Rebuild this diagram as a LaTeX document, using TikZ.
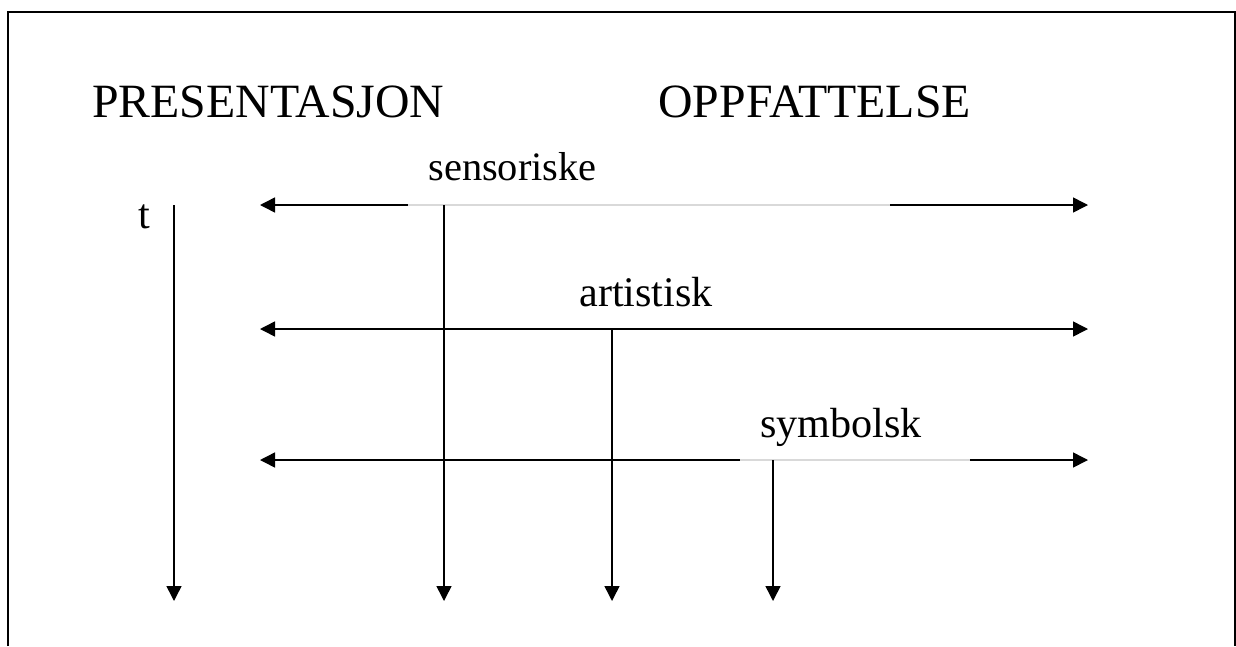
\documentclass[tikz,border=0pt]{standalone}
\usepackage{fontspec}
\setmainfont{Liberation Serif}
\usetikzlibrary{arrows.meta}

\begin{document}
\begin{tikzpicture}[x=0.02cm, y=-0.02cm]
    	\tikzstyle{myframe} = 
    	[line width = 0.04cm]
    	\tikzstyle{myarrow} = 
    	[line width = 0.03cm,
    	-{Triangle[length=0.3cm, width=0.3cm]}]
    	\tikzstyle{myarrows} = 
    	[line width = 0.03cm,
    	{Triangle[length=0.3cm, width=0.3cm]}-{Triangle[length=0.3cm, width=0.3cm]}]
    	\tikzstyle{mytitle} = 
    	[anchor = base west,
    	inner sep = 0pt,
    	font = \fontsize{27.2}{32}\selectfont]
    	\tikzstyle{mylabel} = 
    	[anchor = base west,
    	inner sep = 0pt,
    	font = \fontsize{24}{28}\selectfont]
    	\tikzstyle{myveil} = 
    	[mylabel,
    	fill = white,
    	fill opacity = 0.85,
    	text opacity = 1,
    	inner xsep = 0.4cm,
    	align = left]

        \useasboundingbox (0,0) rectangle (1236,646);
        \draw[myframe] (8,646) -- (8,12) -- (1235,12) -- (1235,646);

        % headings
        \node[mytitle] (pres) at (92,117) {PRESENTASJON};
        \node[mytitle] (oppf) at (658,117) {OPPFATTELSE};
        \node[mylabel] (t) at (138,228) {t};

        % ends of the levels
        \coordinate (sensW) at (260,205);
        \coordinate (sensE) at (1088,205);
        \coordinate (artW) at (260,329);
        \coordinate (artE) at (1088,329);
        \coordinate (symW) at (260,460);
        \coordinate (symE) at (1088,460);
        \draw[myarrows] (sensW) -- (sensE);
        \draw[myarrows] (artW) -- (artE);
        \draw[myarrows] (symW) -- (symE);

        % level labels
        \node[myveil, font=\fontsize{23}{28}\selectfont, text width=8.84cm, text depth=0.56cm] (sens) at (408,180) {sensoriske};
        \node[mylabel] (art) at (579,306) {artistisk};
        \node[myveil, text width=3.8cm, text depth=0.5cm] (sym) at (740,437) {symbolsk};

        % time axes
        \coordinate (tTop) at (174,205);
        \coordinate (tEnd) at (174,601);
        \coordinate (sensTop) at (444,205);
        \coordinate (sensEnd) at (444,601);
        \coordinate (artTop) at (612,329);
        \coordinate (artEnd) at (612,601);
        \coordinate (symTop) at (773,460);
        \coordinate (symEnd) at (773,601);
        \draw[myarrow] (tTop) -- (tEnd);
        \draw[myarrow] (sensTop) -- (sensEnd);
        \draw[myarrow] (artTop) -- (artEnd);
        \draw[myarrow] (symTop) -- (symEnd);
\end{tikzpicture}
\end{document}
